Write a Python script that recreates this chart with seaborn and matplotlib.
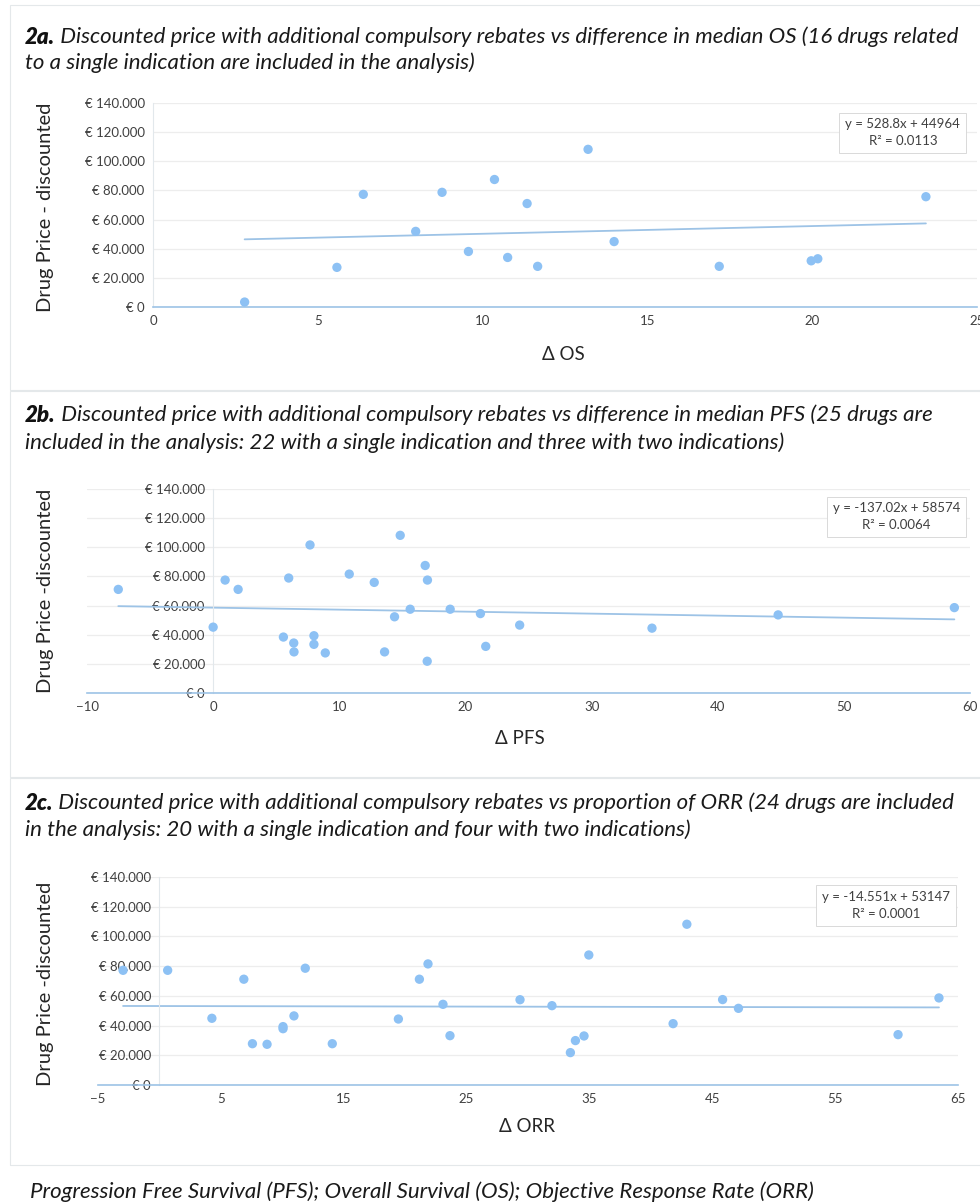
import numpy as np
import matplotlib
matplotlib.use("Agg")
import matplotlib.pyplot as plt
from matplotlib.patches import Rectangle
from matplotlib.ticker import FuncFormatter
import seaborn as sns

# Panel 2a: delta OS vs discounted price
os_delta = [2.78, 5.58, 6.38, 7.97, 8.77, 9.57, 10.36, 10.76, 11.35, 11.67,
            13.20, 13.99, 17.18, 19.97, 20.17, 23.45]
os_price = [3400, 27200, 77300, 51900, 78700, 38100, 87500, 34000, 71000, 27900,
            108200, 44900, 27900, 31700, 33100, 75700]
os_fit = (528.8, 44964)
os_r2 = "0.0113"

# Panel 2b: delta PFS vs discounted price
pfs_delta = [-7.52, 0.0, 0.95, 1.98, 5.57, 5.99, 6.39, 6.41, 7.68, 7.99, 7.99, 8.89,
             10.79, 12.77, 13.59, 14.38, 14.83, 15.62, 16.81, 16.99, 16.97, 18.79,
             21.19, 21.61, 24.3, 34.79, 44.79, 58.76]
pfs_price = [71100, 45200, 77500, 71100, 38400, 78900, 34300, 28200, 101600, 39300,
             33400, 27500, 81600, 75900, 28200, 52300, 108200, 57500, 87500, 77500,
             21800, 57500, 54500, 32000, 46600, 44500, 53600, 58600]
pfs_fit = (-137.02, 58574)
pfs_r2 = "0.0064"

# Panel 2c: delta ORR vs discounted price
orr_delta = [-2.96, 0.67, 4.27, 6.87, 7.57, 8.76, 10.06, 10.06, 10.95, 11.87, 14.07,
             19.45, 21.16, 21.86, 23.08, 23.65, 29.35, 31.95, 33.45, 33.86, 34.56,
             34.95, 41.81, 42.93, 45.84, 47.13, 60.12, 63.45]
orr_price = [77200, 77200, 44900, 71200, 27800, 27400, 39300, 37900, 46500, 78600,
             27800, 44400, 71200, 81500, 54300, 33200, 57400, 53400, 21800, 29900,
             33000, 87500, 41300, 108200, 57500, 51600, 33900, 58600]
orr_fit = (-14.551, 53147)
orr_r2 = "0.0001"

titles = [
    ("2a.", " Discounted price with additional compulsory rebates vs difference in median OS (16 drugs related",
     "to a single indication are included in the analysis)"),
    ("2b.", " Discounted price with additional compulsory rebates vs difference in median PFS (25 drugs are",
     "included in the analysis: 22 with a single indication and three with two indications)"),
    ("2c.", " Discounted price with additional compulsory rebates vs proportion of ORR (24 drugs are included",
     "in the analysis: 20 with a single indication and four with two indications)"),
]
x_labels = ["\u0394 OS", "\u0394 PFS", "\u0394 ORR"]
y_labels = ["Drug Price - discounted", "Drug Price -discounted", "Drug Price -discounted"]
footer = "Progression Free Survival (PFS); Overall Survival (OS); Objective Response Rate (ORR)"

sns.set_style("white")
plt.rcParams["font.family"] = ["Lato", "DejaVu Sans"]

W, H = 980, 1203
fig = plt.figure(figsize=(W / 100, H / 100), dpi=100)


def px_box(l, t, r, b):
    return [l / W, 1 - b / H, (r - l) / W, (b - t) / H]


POINT = "#8DC1F4"
LINE = "#9DC3E6"
GRID = "#EDEDED"
TEXT = "#404040"

panels = [
    dict(x=os_delta, y=os_price, fit=os_fit, r2=os_r2, box=(153, 103, 977, 307),
         xlim=(0, 25), xticks=[0, 5, 10, 15, 20, 25], frame=(10, 5, 990, 390),
         title_y=(37, 63), xlab=(563, 355), ylab=(45, 207), eq=(0.91, 0.853)),
    dict(x=pfs_delta, y=pfs_price, fit=pfs_fit, r2=pfs_r2, box=(87, 489, 970, 693),
         xlim=(-10, 60), xticks=list(range(-10, 61, 10)), frame=(10, 391, 990, 777),
         title_y=(415, 443), xlab=(520, 738), ylab=(45, 591), eq=(0.917, 0.863)),
    dict(x=orr_delta, y=orr_price, fit=orr_fit, r2=orr_r2, box=(98, 877, 958, 1085),
         xlim=(-5, 65), xticks=list(range(-5, 66, 10)), frame=(10, 778, 990, 1165),
         title_y=(803, 830), xlab=(527, 1127), ylab=(45, 984), eq=(0.916, 0.861)),
]

euro = FuncFormatter(lambda v, p: "\u20ac " + f"{v:,.0f}".replace(",", "."))
renderer = fig.canvas.get_renderer()
TSIZE = 16

for p, (bold, rest, line2), xl, yl in zip(panels, titles, x_labels, y_labels):
    l, t, r, b = p["frame"]
    fig.add_artist(Rectangle((l / W, 1 - b / H), (r - l) / W, (b - t) / H,
                             transform=fig.transFigure, fill=False,
                             edgecolor="#E4E8EA", linewidth=0.8))

    ax = fig.add_axes(px_box(*p["box"]))
    sns.scatterplot(x=p["x"], y=p["y"], ax=ax, color=POINT, s=45,
                    edgecolor="none", zorder=3)
    xs = np.array([min(p["x"]), max(p["x"])])
    slope, icpt = p["fit"]
    sns.lineplot(x=xs, y=slope * xs + icpt, ax=ax, color=LINE, linewidth=1.3, zorder=2)

    ax.set_xlim(*p["xlim"])
    ax.set_ylim(0, 140000)
    ax.set_xticks(p["xticks"])
    ax.set_yticks(range(0, 140001, 20000))
    ax.yaxis.set_major_formatter(euro)
    ax.grid(axis="y", color=GRID, linewidth=0.9)
    ax.set_axisbelow(True)
    for s in ["top", "right"]:
        ax.spines[s].set_visible(False)
    ax.spines["left"].set_position(("data", 0))
    ax.spines["left"].set_color("#E2E8EC")
    ax.spines["left"].set_linewidth(0.8)
    ax.spines["bottom"].set_color(LINE)
    ax.spines["bottom"].set_linewidth(1.2)
    ax.tick_params(length=0, labelsize=9.5, labelcolor=TEXT, pad=6)
    ax.set_xlabel("")
    ax.set_ylabel("")

    ax.text(p["eq"][0], p["eq"][1], f"y = {slope:g}x + {icpt}\nR\u00b2 = {p['r2']}",
            transform=ax.transAxes, ha="center", va="center", multialignment="center",
            fontsize=9.5, color=TEXT, linespacing=1.5,
            bbox=dict(boxstyle="square,pad=0.45", facecolor="white", edgecolor="#D9D9D9",
                      linewidth=0.7))

    ty1, ty2 = p["title_y"]
    tb = fig.text(25 / W, 1 - ty1 / H, bold, fontsize=TSIZE, fontweight="heavy",
                  fontstyle="italic", va="center", color="#111111")
    bb = tb.get_window_extent(renderer)
    fig.text(bb.x1 / W, 1 - ty1 / H, rest, fontsize=TSIZE, fontstyle="italic",
             va="center", color="#1a1a1a")
    fig.text(25 / W, 1 - ty2 / H, line2, fontsize=TSIZE, fontstyle="italic",
             va="center", color="#1a1a1a")

    fig.text(p["xlab"][0] / W, 1 - p["xlab"][1] / H, xl, fontsize=13.5,
             ha="center", va="center", color="#262626")
    fig.text(p["ylab"][0] / W, 1 - p["ylab"][1] / H, yl, fontsize=14.5,
             ha="center", va="center", rotation=90, color="#262626")

fig.text(30 / W, 1 - 1192 / H, footer, fontsize=TSIZE, fontstyle="italic",
         va="center", color="#1a1a1a")

fig.savefig("out.png", dpi=100)
